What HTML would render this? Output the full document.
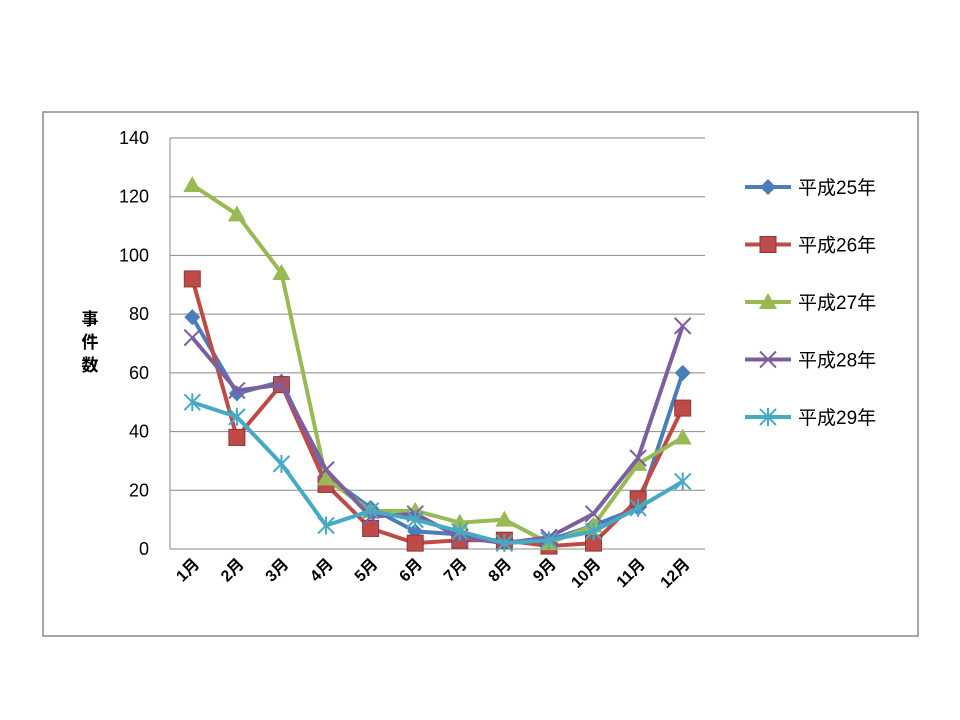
<!DOCTYPE html>
<html><head><meta charset="utf-8"><style>
body{margin:0;background:#fff;}
svg{display:block;font-family:"Liberation Sans","Noto Sans CJK JP",sans-serif;}
</style></head><body>
<svg width="960" height="720" id="c">
<rect x="43" y="112" width="875" height="524" fill="#fff" stroke="#888" stroke-width="1.5"/>
<g id="grid"></g><g id="axes"></g><g id="series"></g><g id="legend"></g>
<text x="90" y="325" font-size="17" font-weight="bold" text-anchor="middle">事</text>
<text x="90" y="348" font-size="17" font-weight="bold" text-anchor="middle">件</text>
<text x="90" y="371" font-size="17" font-weight="bold" text-anchor="middle">数</text>
</svg>
<script>
const categories=["1月","2月","3月","4月","5月","6月","7月","8月","9月","10月","11月","12月"];
const yTicks=[0,20,40,60,80,100,120,140];
const seriesNames=["平成25年","平成26年","平成27年","平成28年","平成29年"];
const h25=[79,53,57,25,14,6,5,2,3,8,14,60];
const h26=[92,38,56,22,7,2,3,3,1,2,17,48];
const h27=[124,114,94,24,13,13,9,10,2,8,29,38];
const h28=[72,54,56,27,11,12,4,2,4,12,31,76];
const h29=[50,45,29,8,13,10,6,2,3,6,14,23];
const allSeries=[h25,h26,h27,h28,h29];
const colors=["#4a7ebb","#be4b48","#98b954","#7d5fa0","#46aac5"];
const markers=["diamond","square","triangle","x","star"];
const NS="http://www.w3.org/2000/svg";
const L=170,R=705,T=138,B=549,yMax=140;
const step=(R-L)/categories.length;
const xS=i=>L+step*(i+0.5);
const yS=v=>B-(v/yMax)*(B-T);
function mk(tag,attrs,parent){const e=document.createElementNS(NS,tag);for(const k in attrs)e.setAttribute(k,attrs[k]);parent.appendChild(e);return e;}
const grid=document.getElementById('grid'),axes=document.getElementById('axes'),ser=document.getElementById('series'),leg=document.getElementById('legend');
yTicks.forEach((t,i)=>{
 const l=mk('line',{x1:L,x2:R,y1:yS(t),y2:yS(t),stroke:'#888','stroke-width':1},grid);
 
 
 const tx=mk('text',{x:L-21,y:yS(t)+6,'font-size':18,'text-anchor':'end'},axes);
 tx.textContent=t;
 
 
});
const ax=mk('line',{x1:L,x2:L,y1:T,y2:B,stroke:'#888'},axes);


categories.forEach((c,i)=>{
 const x=xS(i)+8,y=B+16;
 const tx=mk('text',{x:x,y:y,'font-size':16,'font-weight':'bold','text-anchor':'end',transform:`rotate(-45 ${x} ${y})`},axes);
 tx.textContent=c;
 
 
});
function marker(type,x,y,col,parent){
 let e;
 if(type==='diamond')e=mk('polygon',{points:`${x},${y-8} ${x+8},${y} ${x},${y+8} ${x-8},${y}`,fill:col},parent);
 else if(type==='square')e=mk('rect',{x:x-8,y:y-8,width:16,height:16,fill:col,stroke:'#8c3836','stroke-width':1},parent);
 else if(type==='triangle')e=mk('polygon',{points:`${x},${y-9} ${x+9},${y+7} ${x-9},${y+7}`,fill:col},parent);
 else if(type==='x')e=mk('path',{d:`M${x-8},${y-8}L${x+8},${y+8}M${x+8},${y-8}L${x-8},${y+8}`,stroke:col,'stroke-width':2},parent);
 else e=mk('path',{d:`M${x-8},${y-8}L${x+8},${y+8}M${x+8},${y-8}L${x-8},${y+8}M${x},${y-9}L${x},${y+9}`,stroke:col,'stroke-width':2},parent);
 
 
}
allSeries.forEach((d,s)=>{
 const g=mk('g',{},ser);
 
 
 const pl=mk('polyline',{points:d.map((v,i)=>xS(i)+','+yS(v)).join(' '),fill:'none',stroke:colors[s],'stroke-width':4,'stroke-linejoin':'round'},g);
 
 
 d.forEach((v,i)=>marker(markers[s],xS(i),yS(v),colors[s],g));
 const ly=187+s*57.5;
 const lg=mk('g',{},leg);
 
 
 mk('line',{x1:745,x2:791,y1:ly,y2:ly,stroke:colors[s],'stroke-width':4},lg);
 marker(markers[s],768,ly,colors[s],lg);
 const t=mk('text',{x:798,y:ly+7,'font-size':19},lg);
 t.textContent=seriesNames[s];
});
</script>
</body></html>
